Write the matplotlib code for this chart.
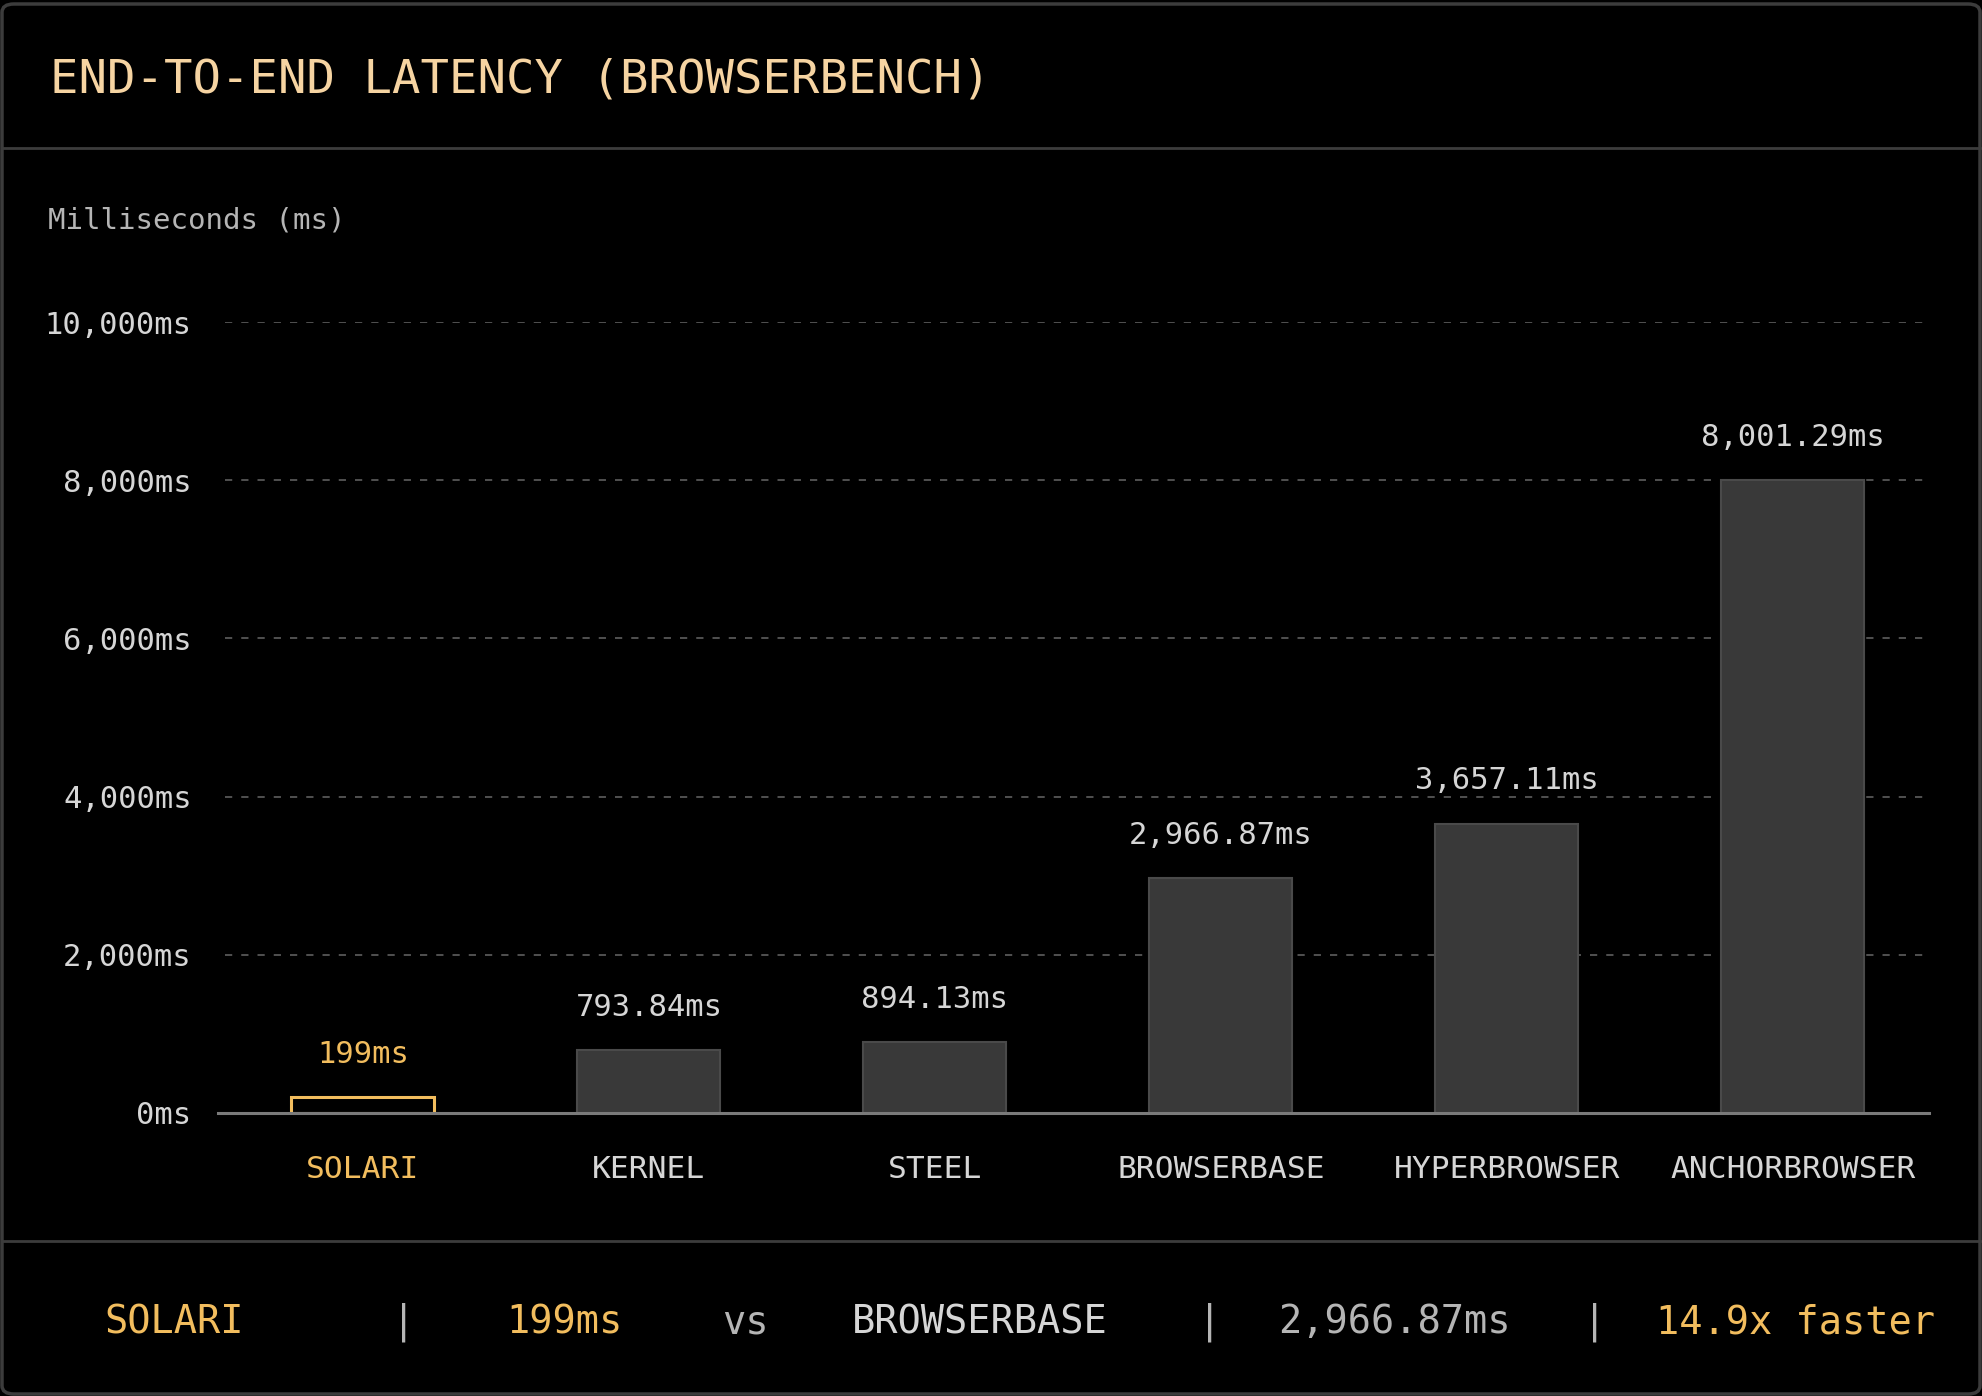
import matplotlib.pyplot as plt
from matplotlib.patches import FancyBboxPatch
from matplotlib.lines import Line2D

# data
names = ['SOLARI', 'KERNEL', 'STEEL', 'BROWSERBASE', 'HYPERBROWSER', 'ANCHORBROWSER']
latency = [199, 793.84, 894.13, 2966.87, 3657.11, 8001.29]
value_labels = ['199ms', '793.84ms', '894.13ms', '2,966.87ms', '3,657.11ms', '8,001.29ms']
yticks = [0, 2000, 4000, 6000, 8000, 10000]
ytick_labels = ['0ms', '2,000ms', '4,000ms', '6,000ms', '8,000ms', '10,000ms']
footer_parts = ['SOLARI', '|', '199ms', 'vs', 'BROWSERBASE', '|', '2,966.87ms', '|', '14.9x faster']

BG = '#000000'
GOLD = '#F2BD5E'
TITLE = '#F6D4A2'
TXT = '#D6D6D6'
DIM = '#B5B5B5'
LINE = '#3C3C3C'
MONO = 'DejaVu Sans Mono'

plt.rcParams['font.family'] = MONO

W, H = 1983, 1396
fig = plt.figure(figsize=(W / 100, H / 100), dpi=100, facecolor=BG)

def fx(px):
    return px / W

def fy(py):
    return 1 - py / H

# outer frame and separators
frame = FancyBboxPatch((fx(2), fy(H - 2)), fx(W - 5), 1 - fy(H - 2) - (1 - fy(4)),
                       boxstyle='round,pad=0,rounding_size=0.006',
                       transform=fig.transFigure, fill=False, ec=LINE, lw=2.5)
fig.patches.append(frame)
fig.lines.append(Line2D([fx(2), fx(W - 3)], [fy(148), fy(148)], transform=fig.transFigure,
                        color=LINE, lw=2))
fig.lines.append(Line2D([fx(2), fx(W - 3)], [fy(1241), fy(1241)], transform=fig.transFigure,
                        color=LINE, lw=2))

fig.text(fx(50), fy(80), 'END-TO-END LATENCY (BROWSERBENCH)', color=TITLE,
         fontsize=34, va='center', ha='left')
fig.text(fx(48), fy(221), 'Milliseconds (ms)', color=DIM, fontsize=21, va='center', ha='left')

# chart
ax = fig.add_axes([fx(218), fy(1113), fx(1929 - 218), (1113 - 322) / H])
ax.set_facecolor(BG)
x = list(range(len(names)))
for i, v in enumerate(latency):
    if i == 0:
        ax.bar(i, v, width=0.5, color=BG, edgecolor=GOLD, linewidth=2.2, zorder=3)
    else:
        ax.bar(i, v, width=0.5, color='#393939', edgecolor='#4a4a4a', linewidth=1.5, zorder=3)
    ax.annotate(value_labels[i], (i, v), xytext=(0, 31), textcoords='offset points',
                ha='center', va='center', fontsize=22,
                color=GOLD if i == 0 else TXT)

ax.set_xlim(-0.507, 5.476)
ax.set_ylim(0, 10000)
ax.set_yticks(yticks)
ax.set_yticklabels(ytick_labels, fontsize=22, color=TXT)
ax.set_xticks(x)
ax.set_xticklabels(names, fontsize=22.5)
for i, lab in enumerate(ax.get_xticklabels()):
    lab.set_color(GOLD if i == 0 else TXT)
ax.tick_params(axis='both', length=0)
ax.tick_params(axis='y', pad=19)
ax.tick_params(axis='x', pad=30)
for g in yticks[1:]:
    ax.axhline(g, xmin=0.004, color='#575757', lw=1.3, linestyle=(0, (4, 5)), zorder=1)
for s in ['top', 'right', 'left']:
    ax.spines[s].set_visible(False)
ax.spines['bottom'].set_color('#7a7a7a')
ax.spines['bottom'].set_linewidth(2.2)
ax.spines['bottom'].set_zorder(4)

# footer comparison line
footer_x = [104, 392, 506, 722, 852, 1198, 1278, 1583, 1656]
footer_colors = [GOLD, DIM, GOLD, DIM, TXT, DIM, DIM, DIM, GOLD]
for txt, px, c in zip(footer_parts, footer_x, footer_colors):
    fig.text(fx(px), fy(1322), txt, color=c, fontsize=27.8, va='center', ha='left')

fig.savefig('out.png', dpi=100, facecolor=BG)
